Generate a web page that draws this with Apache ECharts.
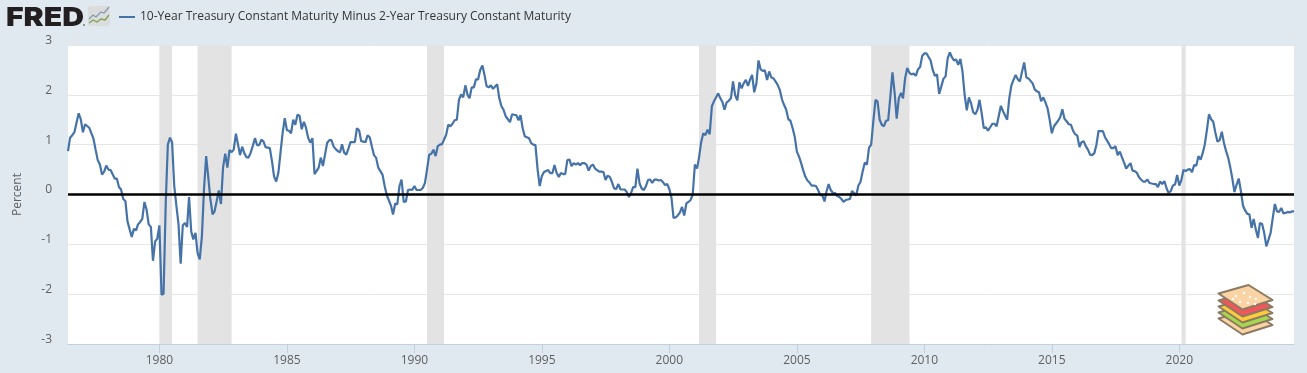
<!DOCTYPE html>
<html>
<head>
<meta charset="utf-8">
<title>10-Year Treasury Constant Maturity Minus 2-Year Treasury Constant Maturity</title>
<script src="https://cdn.jsdelivr.net/npm/echarts@6/dist/echarts.min.js"></script>
<style>
  html, body { margin: 0; padding: 0; background: #e1e9f0; }
  #chart { width: 1307px; height: 373px; }
</style>
</head>
<body>
<div id="chart"></div>
<script>
const seriesName = '10-Year Treasury Constant Maturity Minus 2-Year Treasury Constant Maturity';
const firstYear = 1976, firstMonth = 5; // June 1976, monthly from here on

const spread = [
  .87,1.14,1.19,1.25,1.44,1.63,1.51,
  1.25,1.41,1.43,1.34,1.23,1.12,.9,.69,.6,.4,.46,.58,
  .5,.49,.47,.32,.32,.15,.1,-.09,-.13,-.54,-.7,-.85,
  -.69,-.72,-.6,-.55,-.49,-.15,-.3,-.6,-.65,-1.33,-.94,-.89,
  -.62,-2.01,-1.99,-.17,1.0,1.14,1.05,.17,-.23,-.6,-1.39,-.62,
  -.57,-.65,-.05,-.74,-.9,-.77,-1.17,-1.3,-.84,.1,.77,.35,
  -.1,-.4,-.34,-.13,.08,-.19,.54,.82,.54,.89,.85,.9,
  1.22,1.0,.79,.96,.83,.75,.74,.84,.98,1.13,.99,.99,
  1.1,1.06,.95,.94,.93,.67,.36,.26,.44,.84,1.24,1.53,
  1.29,1.28,1.23,1.5,1.4,1.6,1.58,1.31,1.46,1.34,1.14,1.04,
  1.13,.41,.47,.54,.74,.57,.8,1.04,1.09,1.09,.96,.91,
  .87,.85,1.01,.84,.8,.92,1.05,1.05,1.05,1.33,1.29,1.07,
  1.06,1.05,1.19,1.15,.97,.79,.74,.54,.47,.4,.17,-.01,
  -.12,-.23,-.4,-.18,-.2,.17,.3,-.15,-.14,.09,.1,.09,
  .17,.09,.05,.09,.13,.23,.5,.8,.82,.9,.77,.97,
  1.0,1.01,1.05,1.2,1.4,1.37,1.42,1.49,1.5,1.9,2.01,1.95,
  2.19,2.0,1.93,2.15,2.15,2.31,2.31,2.5,2.59,2.4,2.17,2.15,
  2.19,2.12,2.08,2.21,1.93,1.77,1.7,1.57,1.51,1.45,1.61,1.6,
  1.59,1.49,1.59,1.33,1.17,1.15,1.13,1.03,1.0,.99,.5,.17,
  .37,.45,.43,.49,.43,.43,.59,.43,.35,.43,.41,.41,
  .69,.7,.57,.63,.6,.63,.59,.63,.63,.6,.48,.57,
  .6,.52,.48,.46,.46,.45,.29,.38,.35,.25,.12,.11,
  .21,.1,.1,.1,.05,-.05,.03,.15,.15,.52,.22,.12,
  .09,.17,.29,.3,.23,.3,.3,.28,.29,.25,.19,.21,
  .11,-.07,-.47,-.46,-.42,-.36,-.25,-.42,-.18,-.15,-.11,0,
  .6,.52,.74,1.05,1.23,1.19,1.3,1.21,1.77,1.87,1.95,2.03,
  1.93,1.85,1.7,1.85,1.88,1.93,2.27,1.99,1.89,2.25,2.13,2.23,
  2.3,2.18,2.3,2.4,2.05,2.23,2.69,2.51,2.48,2.49,2.3,2.47,
  2.35,2.33,2.27,2.2,2.1,1.91,1.8,1.7,1.51,1.48,1.33,1.16,
  .86,.76,.64,.49,.36,.28,.24,.18,.18,.17,.09,-.01,
  -.02,-.14,.06,.21,.09,.03,.03,-.03,-.05,-.09,-.15,-.11,
  -.1,-.09,.07,.03,-.02,.18,.25,.46,.64,.6,.94,1.0,
  1.47,1.9,1.87,1.5,1.4,1.37,1.48,1.49,1.97,2.45,2.04,1.52,
  1.94,2.04,1.93,2.34,2.54,2.44,2.41,2.43,2.38,2.51,2.56,2.78,
  2.83,2.83,2.84,2.69,2.5,2.38,2.41,2.02,2.17,2.32,2.37,2.73,
  2.85,2.75,2.69,2.71,2.6,2.72,2.47,2.0,1.69,1.95,1.83,1.65,
  1.61,1.7,1.9,1.63,1.33,1.35,1.28,1.35,1.42,1.42,1.37,1.57,
  1.78,1.67,1.63,1.5,1.93,2.19,2.3,2.4,2.31,2.27,2.47,2.65,
  2.35,2.33,2.29,2.23,2.11,2.07,2.05,1.87,1.95,1.85,1.73,1.5,
  1.23,1.37,1.4,1.48,1.55,1.71,1.52,1.47,1.41,1.4,1.28,1.21,
  1.18,.95,1.05,1.07,.97,.9,.8,.79,.83,1.0,1.28,1.27,
  1.27,1.15,1.12,1.01,.93,.93,.97,.79,.86,.75,.64,.52,
  .58,.63,.48,.47,.44,.35,.3,.26,.26,.3,.23,.22,
  .21,.21,.15,.26,.21,.27,.13,.03,.07,.18,.2,.39,
  .18,.3,.49,.47,.5,.51,.45,.59,.58,.77,.7,.83,
  1.01,1.31,1.61,1.51,1.46,1.24,1.06,1.09,1.26,1.04,.87,.74,
  .54,.3,.05,.2,.32,.07,-.22,-.32,-.39,-.4,-.67,-.49,
  -.7,-.87,-.57,-.59,-.77,-1.04,-.91,-.77,-.47,-.19,-.34,-.35,
  -.27,-.38,-.37,-.35,-.36,-.34,-.34
];

const recessions = [
  ['1980-01-01', '1980-07-01'],
  ['1981-07-01', '1982-11-01'],
  ['1990-07-01', '1991-03-01'],
  ['2001-03-01', '2001-11-01'],
  ['2007-12-01', '2009-06-01'],
  ['2020-02-01', '2020-04-01']
];
const xTickYears = [1980, 1985, 1990, 1995, 2000, 2005, 2010, 2015, 2020];
const yTicks = [-3, -2, -1, 0, 1, 2, 3];

const monthly = spread.map((v, i) => [Date.UTC(firstYear, firstMonth + i, 1), v]);
const xTicks = xTickYears.map(y => Date.UTC(y, 0, 1));

// sandwich badge, bottom layer first
const layerFills = ['#fbd4a5', '#a6d84e', '#fdcb3c', '#f0575c', '#fbd4a5'];
const layerDrop = [25, 19, 13, 7, 0];
const sesame = [[1236,296],[1244,293],[1250,297],[1240,302],[1248,303],[1256,299],[1233,299],[1255,304]];

const graphics = [
  { type: 'text', x: 6, y: 5.5, scaleX: 1.16, style: { text: 'FRED', fill: '#231f20', font: '900 26px Inter', letterSpacing: -1 } },
  { type: 'circle', shape: { cx: 84, cy: 25, r: 1 }, style: { fill: '#777' } },
  { type: 'rect', shape: { x: 88, y: 6, width: 22, height: 20, r: 2 }, style: { fill: '#dcdcdc' } },
  { type: 'polyline', shape: { points: [[89,19],[93,15],[96,17],[101,12],[104,13],[109,7]] }, style: { fill: null, stroke: '#7f9cb6', lineWidth: 1.3 } },
  { type: 'polyline', shape: { points: [[89,23],[93,20],[97,22],[101,19],[105,20],[109,15]] }, style: { fill: null, stroke: '#7ea356', lineWidth: 1.3 } }
];
layerFills.forEach((fill, i) => {
  const d = layerDrop[i];
  graphics.push({
    type: 'polygon', z: 20,
    shape: { points: [[1218.5,293.5+d],[1248.5,285+d],[1272.5,300+d],[1242.5,309.5+d]] },
    style: { fill, stroke: '#8c7a62', lineWidth: 2, lineJoin: 'round' }
  });
});
sesame.forEach(p => graphics.push({ type: 'circle', z: 21, shape: { cx: p[0], cy: p[1], r: 1.2 }, style: { fill: '#fff' } }));

const chart = echarts.init(document.getElementById('chart'));
chart.setOption({
  animation: false,
  backgroundColor: '#e1e9f0',
  textStyle: { fontFamily: 'Open Sans' },
  grid: { left: 68, right: 13, top: 45, bottom: 29, backgroundColor: '#fff', show: true, borderWidth: 0, outerBoundsMode: 'none' },
  legend: {
    data: [seriesName],
    left: 114, top: 6,
    icon: 'rect',
    itemWidth: 16, itemHeight: 2, itemGap: 5,
    textStyle: { color: '#333', fontSize: 12, fontFamily: 'Open Sans' }
  },
  graphic: graphics,
  xAxis: {
    type: 'value',
    min: monthly[0][0],
    max: monthly[monthly.length - 1][0],
    axisLine: { onZero: false, lineStyle: { color: '#c0d0e0' } },
    axisTick: { customValues: xTicks, length: 9, lineStyle: { color: '#c0d0e0' } },
    axisLabel: {
      customValues: xTicks,
      color: '#606060', fontSize: 12, margin: 11,
      formatter: v => String(new Date(v).getUTCFullYear())
    },
    splitLine: { show: false }
  },
  yAxis: {
    type: 'value',
    min: yTicks[0],
    max: yTicks[yTicks.length - 1],
    interval: 1,
    name: 'Percent',
    nameLocation: 'middle',
    nameGap: 44,
    nameTextStyle: { color: '#606060', fontSize: 12 },
    axisLine: { show: false },
    axisTick: { show: false },
    axisLabel: { color: '#606060', fontSize: 12, margin: 16, verticalAlign: 'bottom', lineHeight: 9 },
    splitLine: { lineStyle: { color: '#e6e6e6', width: 1 } }
  },
  series: [
    {
      type: 'line', z: 1, data: [], silent: true,
      markArea: {
        silent: true,
        itemStyle: { color: '#e3e3e3' },
        data: recessions.map(r => [{ xAxis: Date.parse(r[0]) }, { xAxis: Date.parse(r[1]) }])
      }
    },
    {
      name: seriesName,
      type: 'line',
      z: 3,
      data: monthly,
      showSymbol: false,
      lineStyle: { color: '#4572a7', width: 2.2 },
      itemStyle: { color: '#4572a7' }
    },
    {
      type: 'line', z: 5, data: [], silent: true,
      markLine: {
        silent: true,
        symbol: 'none',
        label: { show: false },
        lineStyle: { color: '#000', width: 2.5, type: 'solid' },
        data: [{ yAxis: 0 }]
      }
    }
  ]
});
</script>
</body>
</html>
